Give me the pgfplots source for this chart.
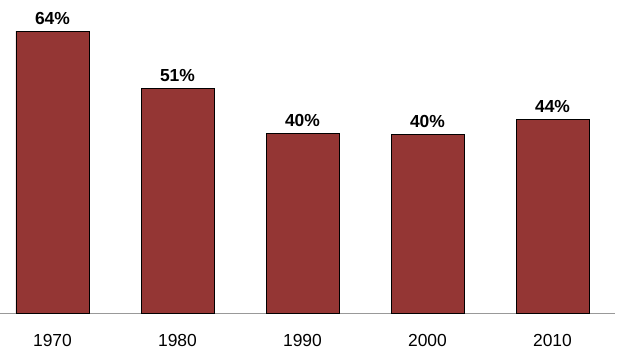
\documentclass[border=0pt]{standalone}
\usepackage{pgfplots}
\pgfplotsset{compat=1.18}
\usepackage{fontspec}
\setmainfont{Liberation Sans}
\definecolor{barred}{HTML}{943634}
\begin{document}
\begin{tikzpicture}
\path[use as bounding box] (0,0) rectangle (627bp,360bp);
\begin{axis}[
  at={(0bp,47bp)}, anchor=south west,
  scale only axis,
  width=615bp, height=313bp,
  xmin=-0.42, xmax=4.5,
  ymin=0, ymax=71.04,
  axis x line=bottom,
  axis y line=none,
  axis line style={draw=gray!80, line width=0.8pt, -},
  xtick={0,1,2,3,4},
  xticklabels={1970,1980,1990,2000,2010},
  major tick length=0pt,
  xticklabel style={font=\fontsize{17.5}{20}\selectfont, yshift=-18bp},
  ybar, bar width=73bp,
  point meta=explicit symbolic,
  nodes near coords,
  nodes near coords style={font=\bfseries\fontsize{17.5}{20}\selectfont, yshift=3bp},
  clip=false,
]
\addplot[fill=barred, draw=black, line width=0.8pt] table[meta=label] {
x y label
0 64 64\%
1 51 51\%
2 40.8 40\%
3 40.6 40\%
4 44 44\%
};
\end{axis}
\end{tikzpicture}
\end{document}
